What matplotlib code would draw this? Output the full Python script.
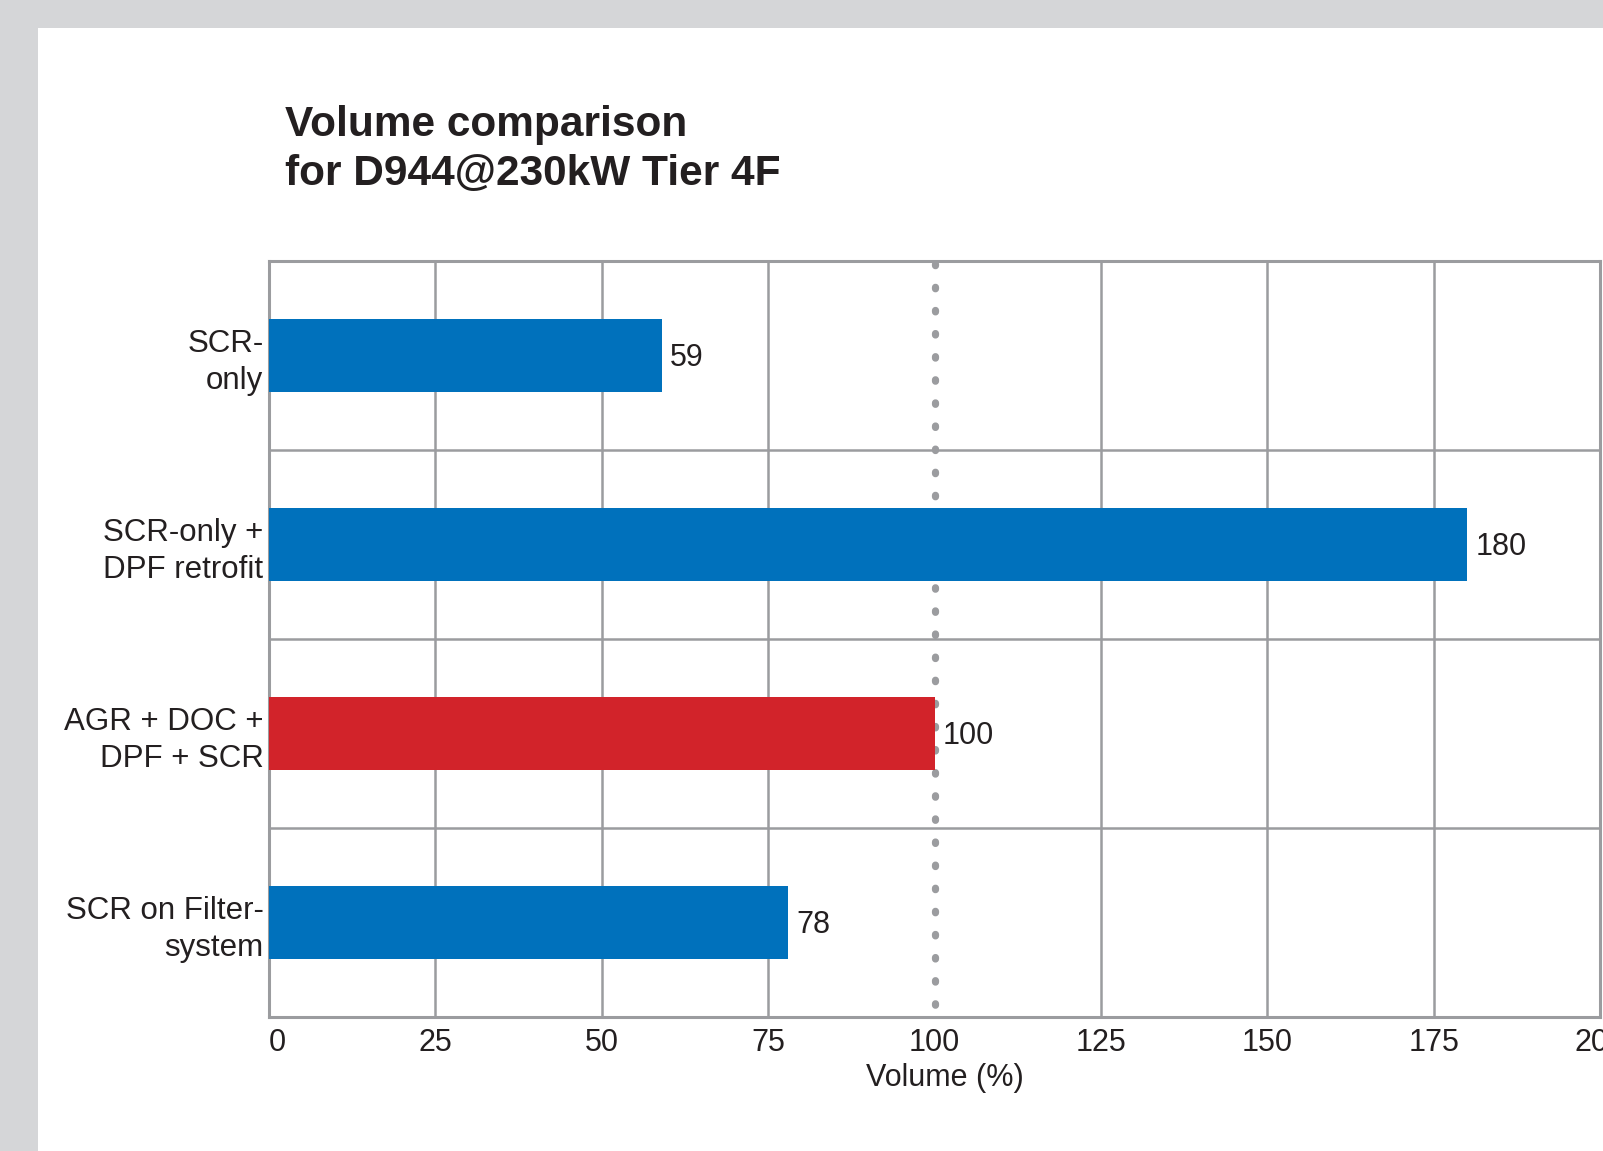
import matplotlib.pyplot as plt
from matplotlib.patches import Rectangle

# data
categories = ["SCR-\nonly", "SCR-only +\nDPF retrofit", "AGR + DOC +\nDPF + SCR", "SCR on Filter-\nsystem"]
volumes = [59, 180, 100, 78]
bar_colors = ["#0071bc", "#0071bc", "#d2232a", "#0071bc"]
xticks = [0, 25, 50, 75, 100, 125, 150, 175, 200]
reference_value = 100

grey = "#9b9c9f"
text_col = "#231f20"
plt.rcParams['font.family'] = ['Liberation Sans', 'DejaVu Sans']

W, H = 1603, 1151
fig = plt.figure(figsize=(W / 100, H / 100), dpi=100)
fig.patch.set_facecolor("#d5d6d8")

# white page on top of the grey frame (kept behind the axes)
fig.patches.append(Rectangle((38 / W, 0), 1 - 38 / W, 1 - 28 / H, transform=fig.transFigure,
                             facecolor="white", edgecolor="none", zorder=-10))

ax = fig.add_axes([269 / W, 1 - 1017 / H, (1600 - 269) / W, (1017 - 261) / H])
ax.set_facecolor("white")

y = list(range(len(categories)))
ax.barh(y, volumes, height=0.385, color=bar_colors, zorder=3)

# dotted reference line at 100 %
ax.axvline(reference_value, color=grey, lw=5.2, linestyle=(1.5, (0.2, 3.0)),
           dash_capstyle="round", zorder=2)

# value labels
for yi, v in zip(y, volumes):
    ax.annotate(str(v), (v, yi), xytext=(6, -2), textcoords="offset points",
                va="center", ha="left", fontsize=22, color=text_col)

ax.set_xlim(0, 200)
ax.set_ylim(len(categories) - 0.5, -0.5)

# vertical grid at the ticks (not at 100, which is dotted), horizontal lines between categories
for xv in xticks:
    if xv != reference_value:
        ax.axvline(xv, color=grey, lw=1.8, zorder=1)
for yb in range(1, len(categories)):
    ax.axhline(yb - 0.5, color=grey, lw=1.8, zorder=1)

for s in ax.spines.values():
    s.set_color(grey)
    s.set_linewidth(2.2)

ax.set_xticks(xticks)
ax.set_xticklabels([str(t) for t in xticks], fontsize=22, color=text_col)
ax.get_xticklabels()[0].set_horizontalalignment("left")
ax.set_yticks(y)
ax.set_yticklabels(categories, fontsize=22.5, color=text_col, linespacing=1.3)
ax.tick_params(length=0)
ax.tick_params(axis="x", pad=8)
ax.tick_params(axis="y", pad=4)
ax.set_xlabel("Volume (%)", fontsize=22, color=text_col)
ax.xaxis.set_label_coords(0.508, -0.061, transform=ax.transAxes)
ax.xaxis.label.set_va("top")

fig.text(285 / W, 1 - 105 / H, "Volume comparison\nfor D944@230kW Tier 4F", fontsize=30.5,
         fontweight="bold", color=text_col, va="top", ha="left", linespacing=1.3)

fig.savefig("out.png", dpi=100, facecolor=fig.get_facecolor())
